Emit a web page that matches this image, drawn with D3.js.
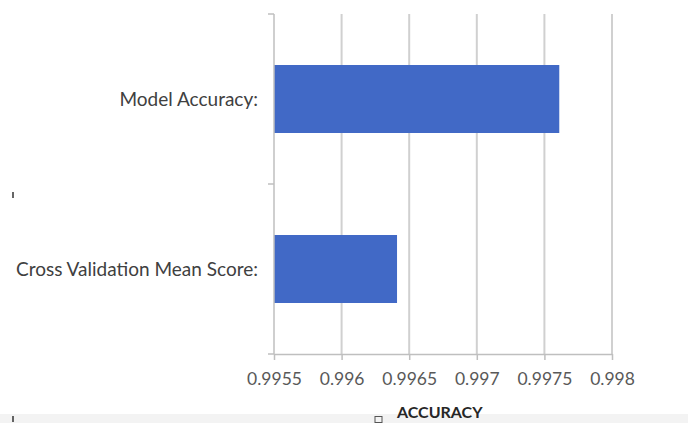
<!DOCTYPE html>
<html>
<head>
<meta charset="utf-8">
<script src="https://cdn.jsdelivr.net/npm/d3@7"></script>
<style>
  html, body { margin: 0; padding: 0; background: #ffffff; }
  svg { display: block; }
  text { font-family: Lato, "Open Sans", sans-serif; }
</style>
</head>
<body>
<script>
// Categories and their accuracy scores
const categories = ["Model Accuracy:", "Cross Validation Mean Score:"];
const scores = [0.99761, 0.99641];
const tickValues = [0.9955, 0.996, 0.9965, 0.997, 0.9975, 0.998];
const tickLabels = ["0.9955", "0.996", "0.9965", "0.997", "0.9975", "0.998"];
const axisTitle = "ACCURACY";

const W = 688, H = 423;
const plot = { left: 274, right: 612, top: 14, bottom: 354 };

const svg = d3.select("body").append("svg")
  .attr("width", W).attr("height", H);

const x = d3.scaleLinear()
  .domain([tickValues[0], tickValues[tickValues.length - 1]])
  .range([plot.left, plot.right]);

const y = d3.scaleBand()
  .domain(categories)
  .range([plot.top, plot.bottom])
  .paddingInner(0.6)
  .paddingOuter(0.3);

// Vertical gridlines
svg.append("g")
  .selectAll("line")
  .data(tickValues.slice(1))
  .join("line")
  .attr("x1", d => x(d)).attr("x2", d => x(d))
  .attr("y1", plot.top).attr("y2", plot.bottom)
  .attr("stroke", "#d0d0d0").attr("stroke-width", 2);

// Bars
svg.append("g")
  .selectAll("rect")
  .data(categories)
  .join("rect")
  .attr("x", x(tickValues[0]))
  .attr("y", d => y(d))
  .attr("width", (d, i) => x(scores[i]) - x(tickValues[0]))
  .attr("height", y.bandwidth())
  .attr("fill", "#4169c6");

// X axis
const xAxis = d3.axisBottom(x)
  .tickValues(tickValues)
  .tickFormat((d, i) => tickLabels[i])
  .tickSize(6)
  .tickPadding(13)
  .tickSizeOuter(0);
const gx = svg.append("g")
  .attr("transform", `translate(0,${plot.bottom})`)
  .call(xAxis);
gx.select(".domain").attr("stroke", "#bfbfbf").attr("stroke-width", 1.5);
gx.selectAll(".tick line").attr("stroke", "#bfbfbf").attr("stroke-width", 1.5);
gx.selectAll(".tick text")
  .attr("fill", "#595959")
  .style("font-size", "17.5px")
  .style("font-family", "Lato, sans-serif");

// Y axis: category boundaries as ticks
const yAxisLine = svg.append("g");
yAxisLine.append("line")
  .attr("x1", plot.left).attr("x2", plot.left)
  .attr("y1", plot.top).attr("y2", plot.bottom)
  .attr("stroke", "#bfbfbf").attr("stroke-width", 1.5);
const boundaries = [plot.top, (y(categories[0]) + y.bandwidth() + y(categories[1])) / 2, plot.bottom];
yAxisLine.selectAll("line.bt")
  .data(boundaries)
  .join("line")
  .attr("class", "bt")
  .attr("x1", plot.left - 6).attr("x2", plot.left)
  .attr("y1", d => d).attr("y2", d => d)
  .attr("stroke", "#bfbfbf").attr("stroke-width", 1.5);

// Category labels
svg.append("g")
  .selectAll("text")
  .data(categories)
  .join("text")
  .attr("x", plot.left - 16)
  .attr("y", d => y(d) + y.bandwidth() / 2)
  .attr("dy", "0.35em")
  .attr("text-anchor", "end")
  .attr("fill", "#404040")
  .style("font-size", "19px")
  .text(d => d);

// Footer band with axis title
svg.append("rect")
  .attr("x", 0).attr("y", 414).attr("width", W).attr("height", H - 414)
  .attr("fill", "#f3f3f3");
svg.append("rect")
  .attr("x", 375).attr("y", 416.5).attr("width", 7).attr("height", 6)
  .attr("fill", "none").attr("stroke", "#555").attr("stroke-width", 1);
svg.append("text")
  .attr("x", 397).attr("y", 418)
  .attr("fill", "#262626")
  .style("font-size", "16px")
  .style("font-weight", "bold")
  .text(axisTitle);

// Small marks at left margin
svg.append("g")
  .selectAll("line")
  .data([192, 416])
  .join("line")
  .attr("x1", 13).attr("x2", 13)
  .attr("y1", d => d).attr("y2", d => d + 6)
  .attr("stroke", "#333").attr("stroke-width", 1.5);
</script>
</body>
</html>
